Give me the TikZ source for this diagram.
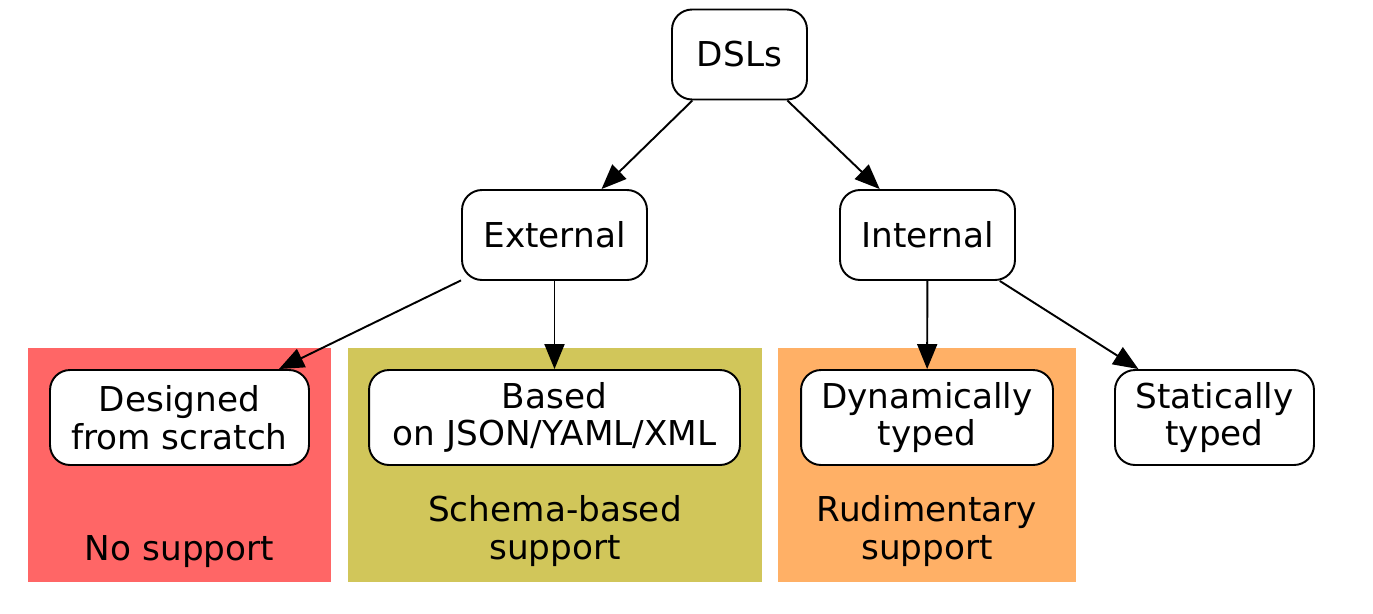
\documentclass[tikz,border=0pt]{standalone}
\usepackage{fontspec}
\setmainfont{DejaVu Sans}
\usetikzlibrary{arrows.meta}
\definecolor{nosupport}{HTML}{FF6666}
\definecolor{schemasupport}{HTML}{D1C65A}
\definecolor{rudimentary}{HTML}{FFB066}

\begin{document}
\begin{tikzpicture}[x=0.02cm,y=-0.02cm,
                    kind/.style={draw,fill=white,line width=1.1pt,rounded corners=0.4cm,align=center,
                                 minimum height=1.8cm,inner sep=0pt,font=\fontsize{19.5}{21.5}\selectfont},
                    support/.style={fill=#1,minimum height=4.68cm,inner sep=0pt},
                    supportlabel/.style={align=center,inner sep=0pt,font=\fontsize{19.5}{21.5}\selectfont},
                    link/.style={line width=1.1pt,-{Triangle[length=0.5cm,width=0.4cm]}}]
  \useasboundingbox (0,0) rectangle (1373,613);

  % coloured groups behind the leaves
  \node[support=nosupport,minimum width=6.06cm] (nogroup) at (179.5,465) {};
  \node[support=schemasupport,minimum width=8.28cm] (schemagroup) at (555,465) {};
  \node[support=rudimentary,minimum width=5.96cm] (rudigroup) at (927,465) {};

  \node[supportlabel] (nolabel) at (179.5,552) {No support};
  \node[supportlabel] (schemalabel) at (555,531) {Schema-based\\support};
  \node[supportlabel] (rudilabel) at (927,531) {Rudimentary\\support};

  % the tree
  \node[kind,minimum width=2.7cm] (dsls) at (739.5,54.5) {DSLs};
  \node[kind,minimum width=3.7cm] (external) at (554.5,235) {External};
  \node[kind,minimum width=3.5cm] (internal) at (927.5,235) {Internal};
  \node[kind,minimum width=5.18cm,minimum height=1.9cm] (scratch) at (179.5,417.5) {Designed\\from scratch};
  \node[kind,minimum width=7.42cm,minimum height=1.9cm] (based) at (554.5,417.5) {Based\\on JSON/YAML/XML};
  \node[kind,minimum width=5.04cm,minimum height=1.9cm] (dynamic) at (927,417.5) {Dynamically\\typed};
  \node[kind,minimum width=3.98cm,minimum height=1.9cm] (static) at (1214.5,417.5) {Statically\\typed};

  \foreach \from/\to in {dsls/external,dsls/internal,external/scratch,external/based,internal/dynamic,internal/static}
    \draw[link] (\from) -- (\to);
\end{tikzpicture}
\end{document}
